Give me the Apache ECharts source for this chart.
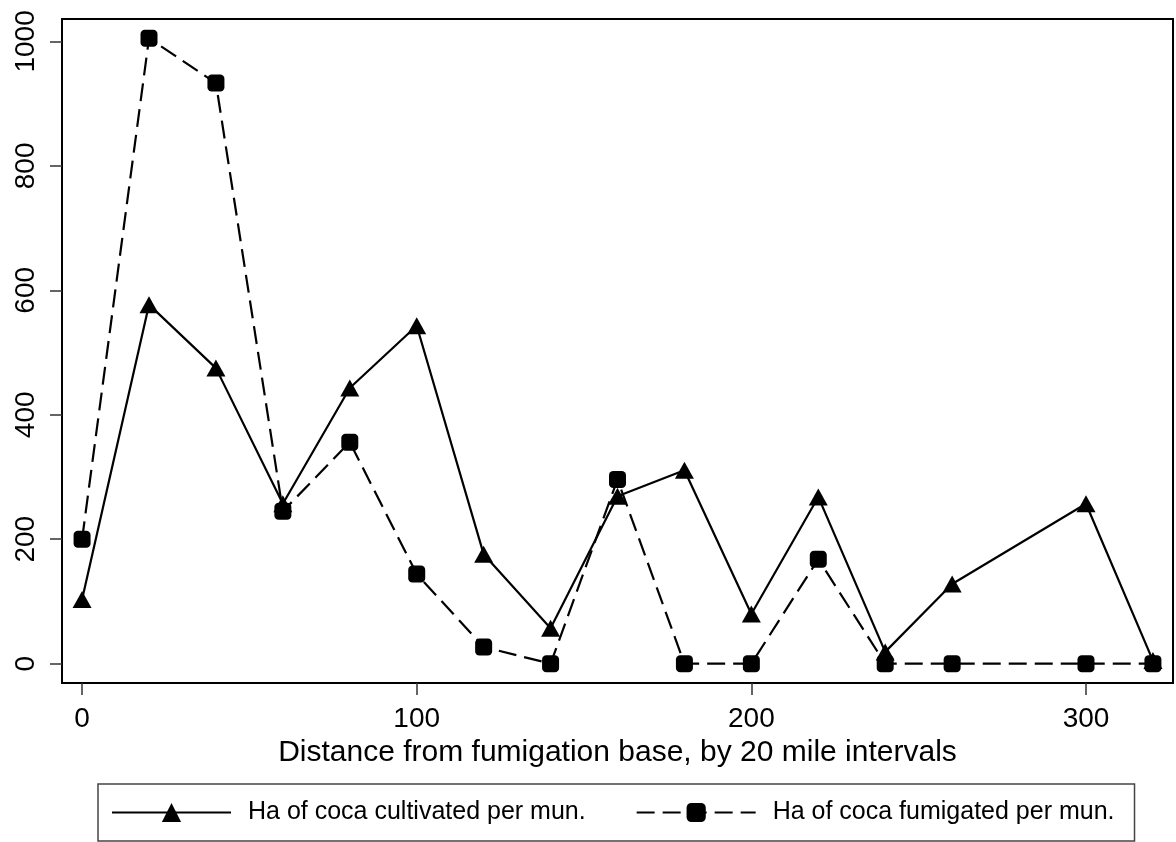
<!DOCTYPE html>
<html>
<head>
<meta charset="utf-8">
<script src="https://cdn.jsdelivr.net/npm/echarts@6/dist/echarts.min.js"></script>
<style>
html,body{margin:0;padding:0;background:#fff;}
#chart{width:1176px;height:842px;}
</style>
</head>
<body>
<div id="chart"></div>
<script>
var distances = [0, 20, 40, 60, 80, 100, 120, 140, 160, 180, 200, 220, 240, 260, 300, 320];
var cultivated = [103, 577, 475, 257, 443, 543, 176, 57, 269, 311, 80, 268, 19, 128, 257, 5];
var fumigated = [200, 1005, 933, 245, 356, 144, 27, 0, 296, 0, 0, 168, 0, 0, 0, 0];
var xTicks = [0, 100, 200, 300];
var yTicks = [0, 200, 400, 600, 800, 1000];
var seriesNames = ['Ha of coca cultivated per mun.', 'Ha of coca fumigated per mun.'];
var xTitle = 'Distance from fumigation base, by 20 mile intervals';

function pairs(xs, ys) { return xs.map(function (x, i) { return [x, ys[i]]; }); }

var font = 'Liberation Sans, Arial, sans-serif';
var chart = echarts.init(document.getElementById('chart'), null, {renderer: 'canvas'});
chart.setOption({
  animation: false,
  backgroundColor: '#fff',
  grid: {
    left: 62, right: 3, top: 19, bottom: 159,
    show: true, borderColor: '#000', borderWidth: 2, backgroundColor: 'transparent'
  },
  xAxis: {
    type: 'value', min: -6, max: 326,
    splitLine: {show: false},
    axisLine: {show: true, onZero: false, lineStyle: {color: '#000', width: 2}},
    axisTick: {show: true, length: 12, customValues: xTicks, lineStyle: {color: '#333', width: 1.5}},
    axisLabel: {customValues: xTicks, fontFamily: font, fontSize: 28, color: '#000', margin: 22,
      formatter: function (v) { return String(v); }},
    name: xTitle, nameLocation: 'middle', nameGap: 50,
    nameTextStyle: {fontFamily: font, fontSize: 30, color: '#000'}
  },
  yAxis: {
    type: 'value', min: -31, max: 1036,
    splitLine: {show: false},
    axisLine: {show: true, onZero: false, lineStyle: {color: '#000', width: 2}},
    axisTick: {show: true, length: 12, customValues: yTicks, lineStyle: {color: '#333', width: 1.5}},
    axisLabel: {customValues: yTicks, fontFamily: font, fontSize: 28, color: '#000', rotate: 90,
      align: 'center', verticalAlign: 'bottom', margin: 22,
      formatter: function (v) { return String(v); }}
  },
  legend: {
    left: 98, top: 784,
    orient: 'horizontal',
    padding: [16, 20, 16, 13],
    borderColor: '#444', borderWidth: 1.5,
    itemWidth: 119, itemHeight: 24, itemGap: 50,
    textStyle: {fontFamily: font, fontSize: 25, color: '#000', padding: [0, 0, 0, 12]},
    data: seriesNames
  },
  series: [
    {
      name: seriesNames[0], type: 'line', data: pairs(distances, cultivated),
      symbol: 'triangle', symbolSize: [19, 17], showSymbol: true,
      lineStyle: {color: '#000', width: 2.2},
      itemStyle: {color: '#000'},
      z: 2
    },
    {
      name: seriesNames[1], type: 'line', data: pairs(distances, fumigated),
      symbol: 'roundRect', symbolSize: 17, showSymbol: true,
      lineStyle: {color: '#000', width: 2.2, type: [18, 8]},
      itemStyle: {color: '#000'},
      z: 3
    }
  ]
});
</script>
</body>
</html>
